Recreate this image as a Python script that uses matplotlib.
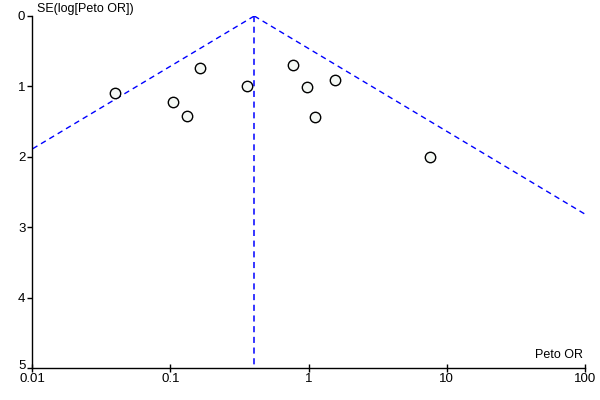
import numpy as np
import matplotlib
matplotlib.use("Agg")
import matplotlib.pyplot as plt
import matplotlib.transforms as mtransforms

plt.rcParams['font.family'] = ['Liberation Sans', 'DejaVu Sans']

# Study data (Peto OR, SE of log Peto OR)
peto_or = [0.0396, 0.105, 0.1315, 0.163, 0.356, 0.766, 0.98, 1.55, 1.11, 7.53]
se_log = [1.094, 1.217, 1.42, 0.739, 0.994, 0.696, 1.009, 0.909, 1.439, 1.999]
pooled_or = 0.404
x_ticks = [0.01, 0.1, 1, 10, 100]
x_tick_labels = ['0.01', '0.1', '1', '10', '100']
y_ticks = [0, 1, 2, 3, 4, 5]
y_tick_labels = ['0', '1', '2', '3', '4', '5']

fig = plt.figure(figsize=(6, 4), dpi=100)
ax = fig.add_axes([32.3/600, 1-368.3/400, (585-32.3)/600, (368.3-16)/400])

se_line = np.array([0.0, 5.0])
blue = '#0000FF'
dash = (0, (4, 3))
ax.plot(pooled_or*np.exp(-1.96*se_line), se_line, color=blue, lw=1, linestyle=dash)
ax.plot(pooled_or*np.exp(1.96*se_line), se_line, color=blue, lw=1, linestyle=dash)
ax.plot([pooled_or, pooled_or], [0, 5], color=blue, lw=1.1, linestyle=dash)

ax.plot(peto_or, se_log, linestyle='none', marker='o', markersize=7.5,
        markerfacecolor='#F4F8F4', markeredgecolor='black', markeredgewidth=1.0, zorder=3)

ax.set_xscale('log')
ax.set_xlim(0.01, 100)
ax.set_ylim(5, 0)
ax.set_xticks(x_ticks)
ax.set_xticklabels(x_tick_labels)
ax.minorticks_off()
ax.set_yticks(y_ticks)
ax.set_yticklabels(y_tick_labels)
for s in ['top', 'right']:
    ax.spines[s].set_visible(False)
for s in ['left', 'bottom']:
    ax.spines[s].set_linewidth(1.0)
    ax.spines[s].set_color('black')
ax.tick_params(axis='x', direction='inout', length=6, width=1, pad=0.5, labelsize=9.5)
ax.tick_params(axis='y', direction='out', length=3.5, width=1, pad=1.5, labelsize=9.5)

# nudge the bottom y label up slightly so it does not collide with "0.01"
lab5 = ax.get_yticklabels()[-1]
lab5.set_transform(lab5.get_transform() +
                   mtransforms.ScaledTranslation(0, 3/72, fig.dpi_scale_trans))

fig.text(37/600, 1-9/400, 'SE(log[Peto OR])', fontsize=9, ha='left', va='center')
fig.text(583/600, 1-355/400, 'Peto OR', fontsize=9, ha='right', va='center')

fig.savefig('out.png', dpi=100)
